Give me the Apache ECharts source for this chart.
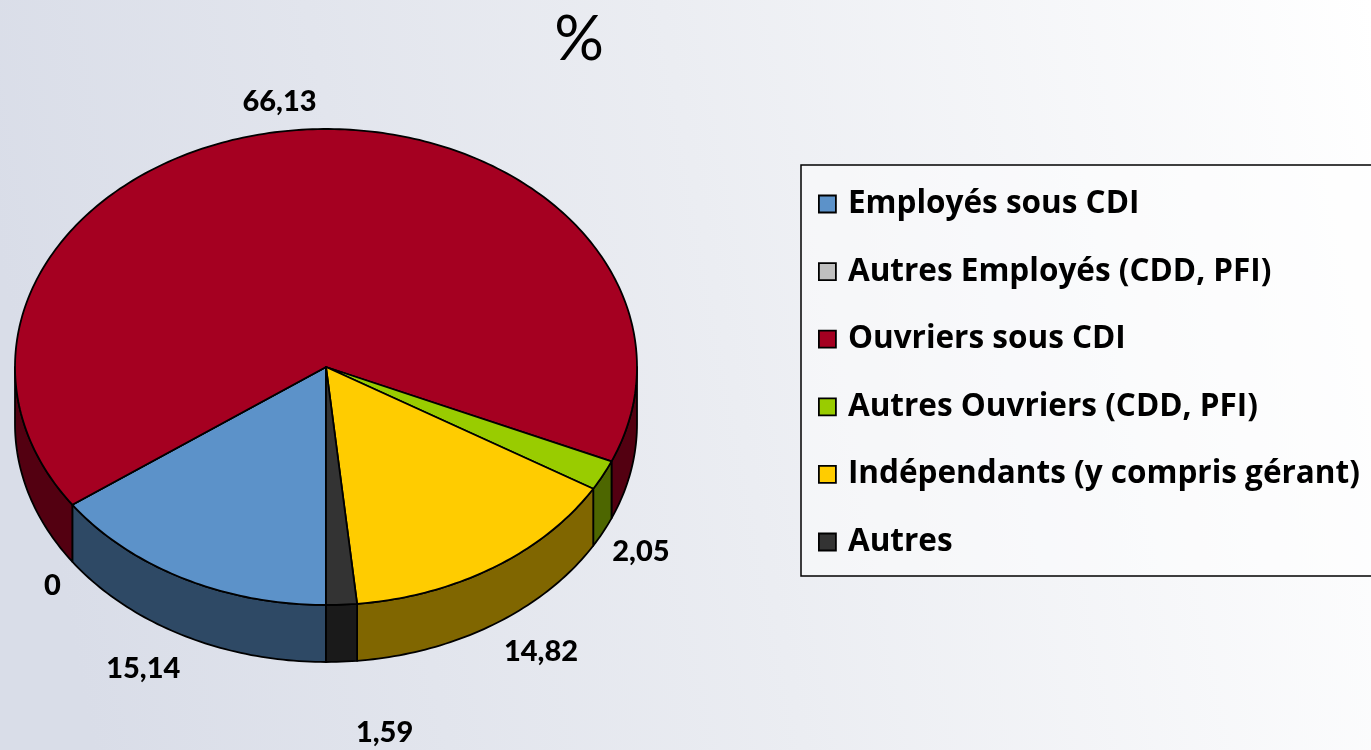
<!DOCTYPE html>
<html><head><meta charset="utf-8">
<style>html,body{margin:0;padding:0;background:#fff}#c{width:1371px;height:750px}</style>
<script src="https://cdn.jsdelivr.net/npm/echarts@6/dist/echarts.min.js"></script>
</head><body><div id="c"></div>
<script>
const categories = ['Employés sous CDI','Autres Employés (CDD, PFI)','Ouvriers sous CDI','Autres Ouvriers (CDD, PFI)','Indépendants (y compris gérant)','Autres'];
const values = [15.14, 0, 66.13, 2.05, 14.82, 1.59];
const valueLabels = ['15,14','0','66,13','2,05','14,82','1,59'];
const topColors = ['#5C92C9','#C0C0C0','#A50021','#99CC00','#FFCC00','#333333'];
const wallColors = ['#2E4965','#606060','#530011','#4D6600','#806600','#1A1A1A'];
const labelOffsets = [[-40,90],[-20,81],[-14,-29],[38,76],[48,84],[43,128]];
const FONT = 'Lato';
const LEGEND_FONT = '"Open Sans"';
const pie = {cx:326, cy:367, rx:311, ry:238, depth:57};

const total = values.reduce((a,b)=>a+b,0);
const point = (deg, dy) => {
  const t = deg*Math.PI/180;
  return [pie.cx - pie.rx*Math.sin(t), pie.cy + pie.ry*Math.cos(t) + (dy||0)];
};
const arc = (a,b,dy) => {
  const pts = [], n = Math.max(1, Math.ceil((b-a)/1));
  for (let i=0;i<=n;i++) pts.push(point(a+(b-a)*i/n, dy));
  return pts;
};
const stroke = {stroke:'#000', lineWidth:1.8, lineJoin:'round'};
const wall = (a,b,color) => {
  const upper = arc(a,b,0), lower = arc(a,b,pie.depth).reverse();
  return {type:'polygon', z2:1, silent:true, shape:{points:upper.concat(lower)}, style:Object.assign({fill:color}, stroke)};
};

function makeSeries(index){
  return {
    type:'custom', name:categories[index], coordinateSystem:'none', animation:false, silent:true,
    itemStyle:{color:topColors[index]},
    data:[[values[index]]],
    renderItem(params, api){
      const before = values.slice(0,index).reduce((a,b)=>a+b,0);
      const a = before/total*360, b = a + api.value(0)/total*360;
      const children = [];
      [[0,90],[270,360]].forEach(r=>{
        const s = Math.max(a,r[0]), e = Math.min(b,r[1]);
        if (e>s) children.push(wall(s,e,wallColors[index]));
      });
      children.push({type:'polygon', z2:2, silent:true,
        shape:{points:[[pie.cx,pie.cy]].concat(arc(a,b,0))},
        style:Object.assign({fill:topColors[index]}, stroke)});
      const mid = point((a+b)/2,0), off = labelOffsets[index];
      children.push({type:'text', z2:3, silent:true, x:mid[0]+off[0], y:mid[1]+off[1],
        style:{text:valueLabels[index], fill:'#000', font:'900 29px '+FONT, align:'center', verticalAlign:'middle'}});
      return {type:'group', children};
    }
  };
}

const chart = echarts.init(document.getElementById('c'), null, {renderer:'canvas'});
chart.setOption({
  animation:false,
  backgroundColor:{type:'linear',x:0,y:0.35,x2:1,y2:0,colorStops:[{offset:0,color:'#D9DDE8'},{offset:0.5,color:'#EBEDF2'},{offset:1,color:'#FFFFFF'}]},
  title:{text:'%', left:574, top:4, textAlign:'center', textStyle:{fontFamily:FONT, fontWeight:400, fontSize:62, color:'#000'}},
  tooltip:{show:false},
  legend:{
    left:801, top:165, orient:'vertical', selectedMode:false, icon:'rect',
    padding:[23,100,18,17], itemWidth:17, itemHeight:17, itemGap:35.6,
    borderColor:'#000', borderWidth:1.5, backgroundColor:'rgba(255,255,255,0.45)',
    textStyle:{fontFamily:LEGEND_FONT, fontWeight:700, fontSize:31.5, color:'#000', padding:[0,0,0,7]},
    data:categories.map((name,i)=>({name, itemStyle:{color:topColors[i], borderColor:'#000', borderWidth:1.8}}))
  },
  series:categories.map((_,i)=>makeSeries(i))
});
</script></body></html>
